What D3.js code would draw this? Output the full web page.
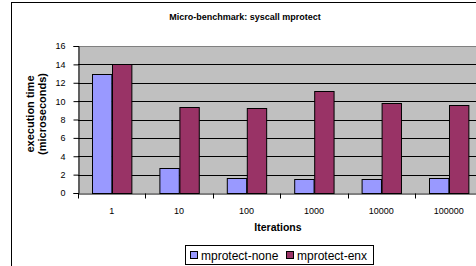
<!DOCTYPE html>
<html>
<head>
<meta charset="utf-8">
<script src="https://cdn.jsdelivr.net/npm/d3@7.9.0/dist/d3.min.js"></script>
<style>
  body { margin: 0; background: #fff; }
  svg { display: block; font-family: "Liberation Sans", Arial, sans-serif; }
</style>
</head>
<body>
<svg id="chart" width="476" height="266"></svg>
<script>
// chart data
const iterations = ['1', '10', '100', '1000', '10000', '100000'];
const seriesNames = ['mprotect-none', 'mprotect-enx'];
const mprotectNone = [13.0, 2.75, 1.58, 1.52, 1.52, 1.58];
const mprotectEnx = [14.0, 9.4, 9.2, 11.1, 9.76, 9.58];
const yTicks = [0, 2, 4, 6, 8, 10, 12, 14, 16];
const colors = ['#9999ff', '#993366'];

const svg = d3.select('#chart');

// outer chart frame (extends beyond the window like the original)
svg.append('rect')
    .attr('x', 11.5).attr('y', 2.5)
    .attr('width', 520).attr('height', 300)
    .attr('fill', '#fff').attr('stroke', '#000');

const plot = { left: 78, top: 46, right: 482.4, bottom: 193 };

const x = d3.scaleBand().domain(iterations).range([plot.left, plot.right]);
const x1 = d3.scaleBand().domain(seriesNames).range([0, x.bandwidth()])
    .paddingInner(0).paddingOuter(0.74);
const y = d3.scaleLinear().domain([0, 16]).range([plot.bottom, plot.top]);

// plot area background
svg.append('rect')
    .attr('x', plot.left).attr('y', plot.top)
    .attr('width', plot.right - plot.left).attr('height', plot.bottom - plot.top)
    .attr('fill', '#c0c0c0');

// gridlines
svg.append('g')
    .selectAll('line')
    .data(yTicks.filter(d => d > 0 && d < 16))
    .join('line')
    .attr('x1', plot.left).attr('x2', plot.right)
    .attr('y1', d => Math.round(y(d)) + 0.5).attr('y2', d => Math.round(y(d)) + 0.5)
    .attr('stroke', '#000');

svg.append('line')
    .attr('x1', plot.left).attr('x2', plot.right)
    .attr('y1', y(16) + 0.5).attr('y2', y(16) + 0.5)
    .attr('stroke', '#808080');

// bars
const rows = iterations.map((it, i) => ({
    it,
    vals: [mprotectNone[i], mprotectEnx[i]]
}));

const groups = svg.append('g')
    .selectAll('g')
    .data(rows)
    .join('g')
    .attr('transform', d => `translate(${x(d.it)},0)`);

groups.selectAll('rect')
    .data(d => d.vals.map((v, j) => ({ name: seriesNames[j], v, j })))
    .join('rect')
    .attr('x', d => Math.round(x1(d.name)) + 0.5)
    .attr('y', d => Math.round(y(d.v)) + 0.5)
    .attr('width', x1.bandwidth())
    .attr('height', d => Math.round(y(0)) - Math.round(y(d.v)))
    .attr('fill', d => colors[d.j])
    .attr('stroke', '#000');

// y axis
const yAxis = svg.append('g')
    .attr('transform', `translate(${plot.left + 0.5},0)`)
    .call(d3.axisLeft(y).tickValues(yTicks).tickSize(5).tickPadding(8));
yAxis.selectAll('text').attr('font-size', 9).attr('fill', '#000')
    .style('font-family', '"Liberation Sans", Arial, sans-serif');
yAxis.select('.domain').attr('stroke', '#000');
yAxis.selectAll('.tick line').attr('stroke', '#000');

// x axis
const xAxis = svg.append('g')
    .attr('transform', `translate(0,${plot.bottom + 0.5})`)
    .call(d3.axisBottom(x).tickSize(0).tickPadding(14));
xAxis.select('.domain').attr('stroke', '#000');
xAxis.selectAll('text').attr('font-size', 9).attr('fill', '#000')
    .style('font-family', '"Liberation Sans", Arial, sans-serif');
// category separator ticks
xAxis.append('g')
    .selectAll('line')
    .data(iterations)
    .join('line')
    .attr('x1', d => Math.round(x(d)) + 0.5).attr('x2', d => Math.round(x(d)) + 0.5)
    .attr('y1', 0).attr('y2', 5)
    .attr('stroke', '#000');

// title
svg.append('text')
    .attr('x', 245).attr('y', 20)
    .attr('text-anchor', 'middle')
    .attr('font-size', 9).attr('font-weight', 'bold')
    .text('Micro-benchmark: syscall mprotect');

// axis titles
svg.append('text')
    .attr('transform', 'translate(34,114) rotate(-90)')
    .attr('text-anchor', 'middle')
    .attr('font-size', 11).attr('font-weight', 'bold')
    .text('execution time');
svg.append('text')
    .attr('transform', 'translate(46,114) rotate(-90)')
    .attr('text-anchor', 'middle')
    .attr('font-size', 11).attr('font-weight', 'bold')
    .text('(microseconds)');

svg.append('text')
    .attr('x', 278).attr('y', 231)
    .attr('text-anchor', 'middle')
    .attr('font-size', 10.5).attr('font-weight', 'bold')
    .text('Iterations');

// legend
const legend = svg.append('g');
legend.append('rect')
    .attr('x', 185.5).attr('y', 245.5)
    .attr('width', 188).attr('height', 19)
    .attr('fill', '#fff').attr('stroke', '#000');

const legendX = [190, 286];
const items = legend.selectAll('g.item')
    .data(seriesNames)
    .join('g')
    .attr('class', 'item')
    .attr('transform', (d, i) => `translate(${legendX[i]},0)`);
items.append('rect')
    .attr('x', 0.5).attr('y', 251.5)
    .attr('width', 7).attr('height', 7)
    .attr('fill', (d, i) => colors[i]).attr('stroke', '#000');
items.append('text')
    .attr('x', 11).attr('y', 259.5)
    .attr('font-size', 12)
    .text(d => d);
</script>
</body>
</html>
